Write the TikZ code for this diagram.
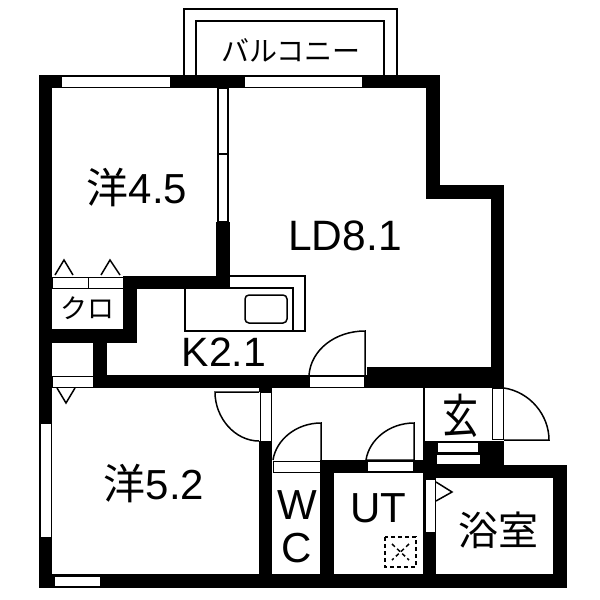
\documentclass[tikz,border=0pt]{standalone}
\usepackage{fontspec}
\setmainfont{Liberation Sans}
\newfontfamily\jpfont{Noto Sans CJK JP}
\tikzset{
 wall/.style={fill=black},
 opening/.style={fill=white, draw=black, line width=1pt},
 thinline/.style={draw=black, line width=1.5pt},
 label/.style={inner sep=0pt, text=black},
}
\begin{document}
\begin{tikzpicture}[x=1pt, y=-1pt]
 \useasboundingbox (0,0) rectangle (600,600);
 % balcony
 \draw[thinline] (184,75) -- (184,9) -- (397,9) -- (397,75);
 \draw[thinline] (196,75) -- (196,21) -- (384,21) -- (384,75);
 % walls
 \foreach \xa/\ya/\xb/\yb in {39/75/440/88, 39/75/52/588, 39/574/567/588, 216/222/230/289,
  123/276/230/289, 123/276/137/343, 52/329/137/343, 93/343/107/388, 93/375/504/388,
  367/367/504/388, 491/185/504/388, 426/185/504/199, 426/75/440/199, 259/441/272/588,
  259/388/272/392, 320/460/334/588, 320/460/423/473, 423/441/436/588, 423/441/504/478,
  423/465/567/478, 553/465/567/588}
  \fill[wall] (\xa,\ya) rectangle (\xb,\yb);
 % windows and door frames
 \foreach \xa/\ya/\xb/\yb in {61/76/170/87, 244/76/362/87, 52/277/88/288,
  88/277/123/288, 52/376/93/387, 40/423/51/537, 54/576/100/586, 309/376/364/387,
  260/392/271/441, 273/461/320/472, 367/461/413/471, 425/479/435/532, 437/442/478/452,
  436/454/480/464, 492/388/503/439}
  \draw[opening] (\xa,\ya) rectangle (\xb,\yb);
 \draw[opening, line width=2pt] (218,88) rectangle (228,222);
 \draw[thinline] (218,154) -- (228,154);
 \draw[thinline] (424,388) -- (424,441);
 % triangles
 \draw[thinline] (55,275) -- (64,260) -- (73,275);
 \draw[thinline] (101,275) -- (110,260) -- (120,275);
 \draw[thinline] (57,388) -- (66,403) -- (75,388);
 \draw[thinline] (436,482) -- (452,492) -- (436,501);
 % door swings
 \draw[thinline] (309,375) .. controls (311,350) and (335,331) .. (365,331) -- (365,375);
 \draw[thinline] (259,441) .. controls (235,441) and (215,418) .. (215,392) -- (259,392);
 \draw[thinline] (273,460) .. controls (276,440) and (296,423) .. (321,423) -- (321,460);
 \draw[thinline] (366,460) .. controls (369,440) and (389,423) .. (414,423) -- (414,460) -- cycle;
 \draw[thinline] (504,388) .. controls (530,392) and (549,415) .. (549,440) -- (504,440);
 % kitchen
 \draw[thinline] (230,276) -- (305,276) -- (305,331) -- (185,331) -- (185,289);
 \draw[thinline] (230,288) -- (293,288) -- (293,331);
 \draw[thinline, rounded corners=4pt] (245,295) rectangle (287,323);
 % floor drain
 \draw[black, line width=2pt, dash pattern=on 4pt off 3pt] (385,537) rectangle (416,567);
 \draw[black, line width=1.5pt, dash pattern=on 4pt off 3pt] (392,544) -- (409,560) (409,544) -- (392,560);
 % room names
 \node[label] (balcony) at (291,50) {\fontsize{28}{28}\selectfont\jpfont バルコニー};
 \node[label] (room45) at (137,188) {\fontsize{42}{42}\selectfont{\jpfont 洋}4.5};
 \node[label] (ld) at (345,236) {\fontsize{42.5}{42.5}\selectfont LD8.1};
 \node[label] (closet) at (87,308) {\fontsize{27}{27}\selectfont\jpfont クロ};
 \node[label] (kitchen) at (224,352) {\fontsize{41}{41}\selectfont K2.1};
 \node[label] (room52) at (154,484) {\fontsize{42}{42}\selectfont{\jpfont 洋}5.2};
 \node[label] (entrance) at (460,416) {\scalebox{1}[1.3]{\fontsize{36}{36}\selectfont\jpfont 玄}};
 \node[label] (wcw) at (297,505) {\fontsize{42}{42}\selectfont W};
 \node[label] (wcc) at (297,548) {\fontsize{42}{42}\selectfont C};
 \node[label] (ut) at (378,508) {\fontsize{42}{42}\selectfont UT};
 \node[label] (bath) at (498,530) {\fontsize{40}{40}\selectfont\jpfont 浴室};
\end{tikzpicture}
\end{document}
